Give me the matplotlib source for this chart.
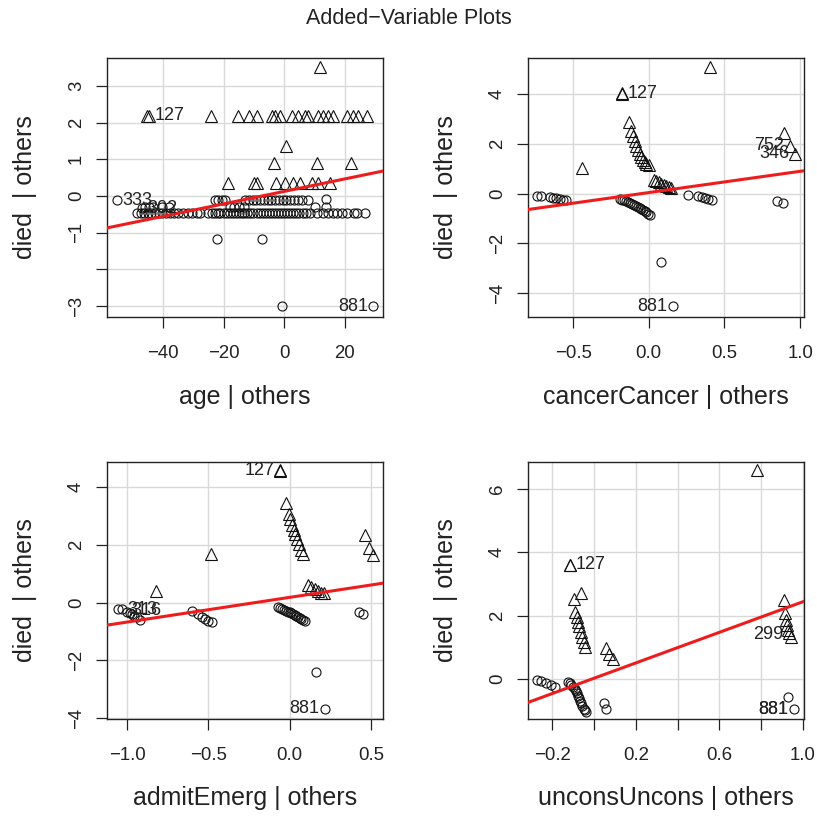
import matplotlib.pyplot as plt
import numpy as np

plt.rcParams['font.family'] = ['Liberation Sans', 'DejaVu Sans']

# ---- age | others ----
age_tri_x = [11.8, -45.4, -44.6, -24.3, -15.2, -11.6, -9.1, -4.2, -3.1, -1.4, 2.4, 4.6, 6.8, 7.9,
             11.2, 12.9, 14.5, 16.2, 20.6, 22.8, 24.4, 27.2, 0.55, -3.3, 10.7, 21.9,
             -18.7, -10.0, -9.1, -2.75, 0.2, 3.0, 5.2, 9.0, 11.2, 15.1]
age_tri_y = [3.52, 2.19, 2.19, 2.19, 2.19, 2.19, 2.19, 2.19, 2.19, 2.19, 2.19, 2.19, 2.19, 2.19,
             2.19, 2.19, 2.19, 2.19, 2.19, 2.19, 2.19, 2.19, 1.35, 0.9, 0.9, 0.9,
             0.35, 0.35, 0.35, 0.35, 0.35, 0.35, 0.35, 0.35, 0.35, 0.35]
age_circ_x = [-55.3, -47.0, 29.4, -0.66, -22.3, -7.3,
              -48.7, -47.5, -46.3, -45.2, -44.0, -42.8, -41.5, -40.3, -39.0, -37.8, -36.6, -35.0,
              -33.5, -32.0, -30.5, -29.0, -27.8, -25.1, -24.0, -23.0, -22.0, -21.2, -20.1, -19.0,
              -18.0, -17.0, -16.0, -15.0, -14.0, -13.2, -12.4, -11.3, -10.2, -9.1, -8.0, -7.0,
              -6.0, -5.0, -4.0, -3.0, -2.0, -1.0, 0.0, 1.0, 2.0, 3.0, 4.0, 5.0, 6.0, 7.0, 8.5,
              10.7, 12.9, 14.5, 16.0, 17.5, 19.0, 20.6, 23.1, 23.9, 26.6,
              -22.9, -21.8, -20.7, -19.6, -13.0, -11.8, -10.5, -9.3, -8.0, -6.8, -5.5, -4.3,
              -3.0, -1.8, -0.5, 0.7, 2.0, 3.2, 4.5, 5.8, 7.9, 13.8,
              -46.0, -44.8, -43.5, -40.5, -38.0, -18.0, -16.5, -15.0, -13.5, 10.0, 13.8]
age_circ_y = [-0.12, -0.33, -3.01, -3.01, -1.16, -1.16,
              -0.46, -0.46, -0.46, -0.46, -0.46, -0.46, -0.46, -0.46, -0.46, -0.46, -0.46, -0.46,
              -0.46, -0.46, -0.46, -0.46, -0.46, -0.46, -0.46, -0.46, -0.46, -0.46, -0.46, -0.46,
              -0.46, -0.46, -0.46, -0.46, -0.46, -0.46, -0.46, -0.46, -0.46, -0.46, -0.46, -0.46,
              -0.46, -0.46, -0.46, -0.46, -0.46, -0.46, -0.46, -0.46, -0.46, -0.46, -0.46, -0.46,
              -0.46, -0.46, -0.46, -0.46, -0.46, -0.46, -0.46, -0.46, -0.46, -0.46, -0.46, -0.46,
              -0.46,
              -0.12, -0.12, -0.12, -0.12, -0.12, -0.12, -0.12, -0.12, -0.12, -0.12, -0.12, -0.12,
              -0.12, -0.12, -0.12, -0.12, -0.12, -0.12, -0.12, -0.12, -0.12, -0.07,
              -0.3, -0.3, -0.3, -0.3, -0.3, -0.3, -0.3, -0.3, -0.3, -0.3, -0.3]
age_fit = (0.125, 0.017)
age_labels = [('127', -44.6, 2.19, 'r'), ('333', -55.3, -0.12, 'r'),
              ('302', -47.0, -0.33, 'r'), ('881', 29.4, -3.01, 'l')]

# ---- cancerCancer | others ----
can_tri_x = [0.404, -0.176, -0.178, -0.439, -0.130, -0.115, -0.104, -0.093, -0.082, -0.071,
             -0.060, -0.049, -0.038, -0.026, -0.015, 0.002, 0.033, 0.051, 0.068, 0.084,
             0.099, 0.117, 0.135, 0.150, 0.896, 0.933, 0.966]
can_tri_y = [5.10, 4.03, 4.02, 1.03, 2.87, 2.50, 2.30, 2.10, 1.92, 1.76,
             1.60, 1.47, 1.36, 1.27, 1.20, 1.16, 0.56, 0.49, 0.45, 0.40,
             0.36, 0.32, 0.27, 0.21, 2.43, 1.92, 1.60]
can_circ_x = [-0.737, -0.710, -0.655, -0.633, -0.611, -0.589, -0.567, -0.545,
              -0.192, -0.178, -0.165, -0.151, -0.137, -0.122, -0.108, -0.095, -0.082, -0.071,
              -0.060, -0.049, -0.038, -0.026, -0.015, -0.004, 0.007,
              0.260, 0.326, 0.349, 0.371, 0.393, 0.415, 0.845, 0.885, 0.084, 0.161]
can_circ_y = [-0.08, -0.08, -0.13, -0.16, -0.19, -0.21, -0.24, -0.27,
              -0.21, -0.24, -0.27, -0.30, -0.33, -0.36, -0.40, -0.44, -0.48, -0.52,
              -0.57, -0.62, -0.67, -0.71, -0.75, -0.80, -0.87,
              -0.07, -0.11, -0.13, -0.16, -0.20, -0.24, -0.31, -0.37, -2.75, -4.52]
can_fit = (0.042, 0.854)
can_labels = [('127', -0.176, 4.03, 'r'), ('752', 0.933, 1.92, 'l'),
              ('346', 0.966, 1.60, 'l'), ('881', 0.161, -4.52, 'l')]

# ---- admitEmerg | others ----
adm_tri_x = [-0.061, -0.060, -0.020, -0.004, 0.004, 0.014, 0.024, 0.035, 0.045, 0.057, 0.067,
             0.082, -0.486, -0.820, 0.112, 0.133, 0.153, 0.173, 0.194, 0.214, 0.461, 0.490, 0.510]
adm_tri_y = [4.56, 4.55, 3.44, 3.04, 2.87, 2.69, 2.52, 2.35, 2.18, 2.01, 1.83,
             1.66, 1.66, 0.40, 0.60, 0.52, 0.46, 0.40, 0.34, 0.32, 2.32, 1.89, 1.63]
adm_circ_x = [-1.057, -1.031, -1.000, -0.984, -0.969, -0.955, -0.939, -0.922,
              -0.598, -0.561, -0.541, -0.520, -0.500, -0.480,
              -0.071, -0.058, -0.045, -0.032, -0.020, -0.010, 0.000, 0.010, 0.020, 0.030,
              0.041, 0.051, 0.061, 0.072, 0.082, 0.092,
              0.424, 0.453, 0.159, 0.216]
adm_circ_y = [-0.21, -0.23, -0.32, -0.37, -0.41, -0.46, -0.50, -0.60,
              -0.29, -0.40, -0.49, -0.57, -0.63, -0.66,
              -0.17, -0.20, -0.23, -0.26, -0.29, -0.31, -0.34, -0.37, -0.40, -0.43,
              -0.46, -0.49, -0.52, -0.56, -0.60, -0.63,
              -0.31, -0.38, -2.41, -3.67]
adm_fit = (0.178, 0.853)
adm_labels = [('127', -0.061, 4.56, 'l'), ('313', -1.031, -0.23, 'r'),
              ('316', -1.010, -0.27, 'r'), ('881', 0.216, -3.67, 'l')]

# ---- unconsUncons | others ----
unc_tri_x = [0.779, -0.116, -0.115, -0.064, -0.097, -0.088, -0.081, -0.075, -0.069, -0.062,
             -0.056, -0.049, -0.043, 0.059, 0.072, 0.091, 0.907, 0.913, 0.920, 0.926,
             0.929, 0.935, 0.943]
unc_tri_y = [6.61, 3.61, 3.60, 2.73, 2.52, 2.13, 1.97, 1.81, 1.66, 1.50,
             1.34, 1.18, 1.02, 0.97, 0.79, 0.62, 2.48, 2.08, 1.87, 1.71,
             1.55, 1.44, 1.34]
unc_circ_x = [-0.273, -0.252, -0.228, -0.204, -0.188, -0.124, -0.116, -0.108, -0.100, -0.092,
              -0.086, -0.081, -0.076, -0.072, -0.066, -0.061, -0.055, -0.049, -0.044, -0.040,
              0.046, 0.059, 0.927, 0.955]
unc_circ_y = [-0.03, -0.05, -0.14, -0.19, -0.24, -0.08, -0.13, -0.19, -0.25, -0.30,
              -0.38, -0.45, -0.53, -0.61, -0.69, -0.77, -0.85, -0.93, -0.98, -1.03,
              -0.75, -0.96, -0.56, -0.96]
unc_fit = (0.024, 2.417)
unc_labels = [('127', -0.116, 3.61, 'r'), ('299', 0.935, 1.40, 'l'),
              ('881', 0.955, -0.96, 'l'), ('881', 0.956, -0.955, 'l')]

panels = [
    dict(pos=[0.131, 0.6115, 0.3378, 0.3174], xlab='age | others',
         tri=(age_tri_x, age_tri_y), circ=(age_circ_x, age_circ_y), fit=age_fit, labels=age_labels,
         xlim=(-58.6, 32.6), ylim=(-3.3, 3.76),
         xt=[-40, -20, 0, 20], xtl=['\u221240', '\u221220', '0', '20'],
         yt=[-3, -2, -1, 0, 1, 2, 3], ytl=['\u22123', '', '\u22121', '0', '1', '2', '3']),
    dict(pos=[0.6463, 0.6115, 0.3378, 0.3174], xlab='cancerCancer | others',
         tri=(can_tri_x, can_tri_y), circ=(can_circ_x, can_circ_y), fit=can_fit, labels=can_labels,
         xlim=(-0.798, 1.026), ylim=(-4.96, 5.45),
         xt=[-0.5, 0, 0.5, 1.0], xtl=['\u22120.5', '0.0', '0.5', '1.0'],
         yt=[-4, -2, 0, 2, 4], ytl=['\u22124', '\u22122', '0', '2', '4']),
    dict(pos=[0.131, 0.1189, 0.3378, 0.3149], xlab='admitEmerg | others',
         tri=(adm_tri_x, adm_tri_y), circ=(adm_circ_x, adm_circ_y), fit=adm_fit, labels=adm_labels,
         xlim=(-1.123, 0.574), ylim=(-4.02, 4.85),
         xt=[-1.0, -0.5, 0, 0.5], xtl=['\u22121.0', '\u22120.5', '0.0', '0.5'],
         yt=[-4, -2, 0, 2, 4], ytl=['\u22124', '\u22122', '0', '2', '4']),
    dict(pos=[0.6463, 0.1189, 0.3378, 0.3149], xlab='unconsUncons | others',
         tri=(unc_tri_x, unc_tri_y), circ=(unc_circ_x, unc_circ_y), fit=unc_fit, labels=unc_labels,
         xlim=(-0.315, 1.005), ylim=(-1.26, 6.85),
         xt=[-0.2, 0, 0.2, 0.4, 0.6, 0.8, 1.0], xtl=['\u22120.2', '', '0.2', '', '0.6', '', '1.0'],
         yt=[0, 2, 4, 6], ytl=['0', '2', '4', '6']),
]

txt = '#222222'
fig = plt.figure(figsize=(8.17, 8.16), dpi=100)

for p in panels:
    ax = fig.add_axes(p['pos'])
    ax.set_xlim(*p['xlim'])
    ax.set_ylim(*p['ylim'])
    ax.set_xticks(p['xt'])
    ax.set_xticklabels(p['xtl'])
    ax.set_yticks(p['yt'])
    ax.set_yticklabels(p['ytl'], rotation=90, va='center')
    ax.grid(True, color='#d9d9d9', lw=1.0, zorder=0)
    ax.tick_params(direction='out', length=8, width=0.9, labelsize=13.4,
                   colors='#222222')
    ax.tick_params(axis='x', pad=12)
    ax.tick_params(axis='y', pad=8)
    for s in ax.spines.values():
        s.set_linewidth(1.0)
        s.set_color('#222222')

    ax.plot(p['circ'][0], p['circ'][1], 'o', ms=6.5, mfc='none', mec='#111111', mew=0.8, zorder=3)
    ax.plot(p['tri'][0], p['tri'][1], '^', ms=8, mfc='none', mec='#111111', mew=0.8, zorder=3)
    b0, b1 = p['fit']
    xx = np.array(p['xlim'])
    ax.plot(xx, b0 + b1 * xx, color='#ee1c1c', lw=2.2, zorder=4)

    for lab, lx, ly, side in p['labels']:
        if side == 'r':
            ax.annotate(lab, (lx, ly), xytext=(4, 0), textcoords='offset points',
                        ha='left', va='center', fontsize=13, color=txt, zorder=5)
        else:
            ax.annotate(lab, (lx, ly), xytext=(-4, 0), textcoords='offset points',
                        ha='right', va='center', fontsize=13, color=txt, zorder=5)

    ax.text(0.5, -80 / 259, p['xlab'], transform=ax.transAxes, ha='center', va='center',
            fontsize=18, color=txt)
    ax.text(-82 / 276, 0.5, 'died  | others', transform=ax.transAxes, ha='center', va='center',
            rotation=90, fontsize=18, color=txt)

fig.text(0.5, 1 - 18 / 816, 'Added\u2212Variable Plots', ha='center', va='center',
         fontsize=15.5, color=txt)

plt.savefig('out.png', dpi=100)
